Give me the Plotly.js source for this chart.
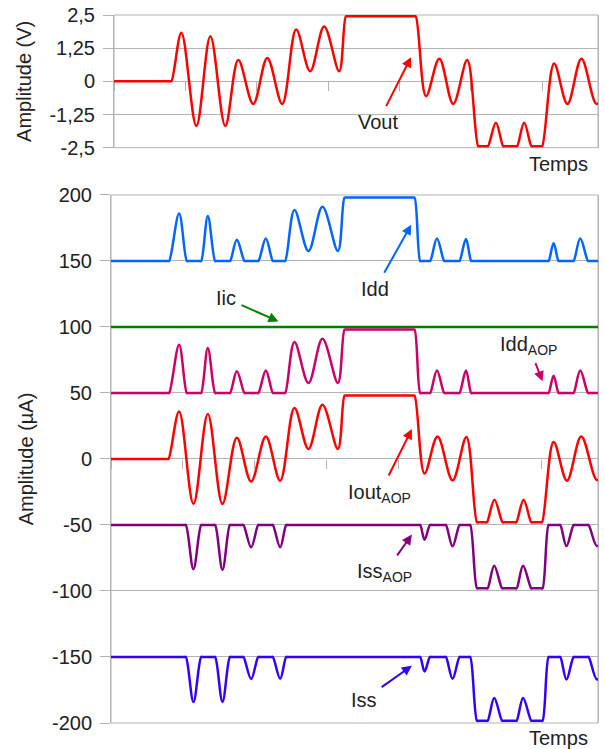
<!DOCTYPE html>
<html>
<head>
<meta charset="utf-8">
<script src="https://cdn.plot.ly/plotly-3.0.1.min.js"></script>
<style>html,body{margin:0;padding:0;background:#fff;}#chart{width:605px;height:749px;}</style>
</head>
<body>
<div id="chart"></div>
<script>
// ---------- time axis (arbitrary units, one x tick per unit) ----------
const xTicks = [0, 1, 2, 3, 4, 5, 6];

// ---------- top plot: Vout (V) ----------
const tVout = [0, 0.784, 0.804, 0.944, 1.154, 1.350, 1.559, 1.741, 1.951, 2.147, 2.357, 2.552, 2.748, 2.944, 3.154,
  3.248, 3.268, 4.207, 4.227, 4.371, 4.557, 4.752, 4.948, 5.102, 5.122, 5.218, 5.238, 5.350, 5.452, 5.472,
  5.627, 5.647, 5.745, 5.849, 5.869, 5.977, 5.997, 6.165, 6.352, 6.548, 6.758, 6.85];
const vout = [0, 0, 0, 1.83, -1.68, 1.70, -1.68, 0.80, -0.85, 0.88, -0.85, 1.95, 0.38, 2.07, 0.38,
  2.45, 2.45, 2.45, 2.45, -0.56, 0.85, -0.85, 0.80, -2.45, -2.45, -2.45, -2.45, -1.56, -2.45, -2.45,
  -2.45, -2.45, -1.56, -2.45, -2.45, -2.45, -2.45, 0.67, -0.85, 0.85, -0.85, -0.6];
const vTickVals = [-2.5, -1.25, 0, 1.25, 2.5];
const vTickText = ['-2,5', '-1,25', '0', '1,25', '2,5'];

// ---------- bottom plot: currents (µA) ----------
const tIout = [0, 0.78, 0.80, 0.948, 1.148, 1.348, 1.552, 1.752, 1.951, 2.156, 2.355, 2.554, 2.749, 2.944, 3.159,
  3.251, 3.271, 4.206, 4.226, 4.365, 4.546, 4.755, 4.948, 5.095, 5.115, 5.214, 5.234, 5.338, 5.451, 5.471,
  5.622, 5.642, 5.744, 5.851, 5.871, 5.98, 6.0, 6.162, 6.348, 6.547, 6.766, 6.86];
const ioutAop = [0, 0, 0, 36, -34, 34, -34, 16, -17, 17, -16.5, 38.6, 7.6, 41, 7.6,
  48, 48, 48, 48, -11, 17, -16.2, 16.7, -48, -48, -48, -48, -30.8, -48, -48,
  -48, -48, -30.8, -48, -48, -48, -48, 12.9, -16.4, 17.1, -16, -11];

const tIdd = [0, 0.79, 0.809, 0.948, 1.056, 1.076, 1.235, 1.255, 1.348, 1.450, 1.47, 1.639, 1.659, 1.752, 1.858,
  1.878, 2.033, 2.053, 2.156, 2.253, 2.273, 2.405, 2.425, 2.554, 2.749, 2.944, 3.159, 3.251, 3.271, 4.206,
  4.226, 4.305, 4.325, 4.424, 4.444, 4.538, 4.639, 4.659, 4.832, 4.852, 4.942, 5.015, 5.035, 6.072, 6.092,
  6.162, 6.231, 6.251, 6.420, 6.440, 6.533, 6.641, 6.661, 6.82];
const idd = [150, 150, 150, 186, 150, 150, 150, 150, 184, 150, 150, 150, 150, 166, 150,
  150, 150, 150, 167, 150, 150, 150, 150, 188.6, 157.6, 191, 157.6, 198, 198, 198,
  198, 150, 150, 150, 150, 167, 150, 150, 150, 150, 166.7, 150, 150, 150, 150,
  163.4, 150, 150, 150, 150, 167, 150, 150, 150];
const iddAop = [50, 50, 50, 86.6, 50, 50, 50, 50, 84, 50, 50, 50, 50, 66.4, 50,
  50, 50, 50, 67, 50, 50, 50, 50, 88.6, 57.6, 91, 57.6, 98, 98, 98,
  98, 50, 50, 50, 50, 67, 50, 50, 50, 50, 67, 50, 50, 50, 50,
  63.1, 50, 50, 50, 50, 67, 50, 50, 50];

const tIss = [0, 1.022, 1.042, 1.148, 1.255, 1.275, 1.430, 1.450, 1.552, 1.655, 1.675, 1.824, 1.844, 1.951, 2.049,
  2.069, 2.233, 2.253, 2.355, 2.439, 2.459, 4.285, 4.305, 4.365, 4.44, 4.46, 4.643, 4.663, 4.755, 4.852,
  4.872, 4.981, 5.001, 5.095, 5.115, 5.224, 5.244, 5.335, 5.445, 5.465, 5.627, 5.647, 5.737, 5.851, 5.871,
  5.988, 6.008, 6.092, 6.112, 6.235, 6.255, 6.341, 6.440, 6.46, 6.629, 6.649, 6.766, 6.86];
const iss = [-150, -150, -150, -184, -150, -150, -150, -150, -184, -150, -150, -150, -150, -166.7, -150,
  -150, -150, -150, -166.5, -150, -150, -150, -150, -161, -150, -150, -150, -150, -166.5, -150,
  -150, -150, -150, -198.3, -198.3, -198.3, -198.3, -181, -198.3, -198.3, -198.3, -198.3, -181, -198.3, -198.3,
  -198.3, -198.3, -150, -150, -150, -150, -167, -150, -150, -150, -150, -167, -160];
const issAop = [-50, -50, -50, -83.5, -50, -50, -50, -50, -84, -50, -50, -50, -50, -66.9, -50,
  -50, -50, -50, -66.9, -50, -50, -50, -50, -61.1, -50, -50, -50, -50, -66.2, -50,
  -50, -50, -50, -98, -98, -98, -98, -80.8, -98, -98, -98, -98, -80.8, -98, -98,
  -98, -98, -50, -50, -50, -50, -66, -50, -50, -50, -50, -66, -60];

const tIic = [0, 6.86];
const iic = [100, 100];

const iTickVals = [-200, -150, -100, -50, 0, 50, 100, 150, 200];
const iTickText = ['-200', '-150', '-100', '-50', '0', '50', '100', '150', '200'];

// ---------- styling ----------
const GRID = '#b3b3b3';
const TXT = '#222222';
const FONT = 'Liberation Sans, Arial, sans-serif';
const LW = 2.5;

function line(x, y, color, xa, ya, name) {
  return {x: x, y: y, xaxis: xa, yaxis: ya, type: 'scatter', mode: 'lines', name: name,
    line: {color: color, width: LW, shape: 'spline', smoothing: 1}, hoverinfo: 'skip'};
}

const traces = [
  line(tVout, vout, '#ff0000', 'x', 'y', 'Vout'),
  line(tIdd, idd, '#0066ff', 'x2', 'y2', 'Idd'),
  line(tIic, iic, '#008000', 'x2', 'y2', 'Iic'),
  line(tIdd, iddAop, '#cc0066', 'x2', 'y2', 'IddAOP'),
  line(tIout, ioutAop, '#ff0000', 'x2', 'y2', 'IoutAOP'),
  line(tIss, issAop, '#800080', 'x2', 'y2', 'IssAOP'),
  line(tIss, iss, '#3300ff', 'x2', 'y2', 'Iss')
];

const topDom = [0.8126, 1];
const botDom = [0, 0.7458];

function xAxis(dom, ydom) {
  return {domain: dom, range: [0, 6.78], anchor: 'free', position: (ydom[0] + ydom[1]) / 2,
    showgrid: false, zeroline: false, showline: false, ticks: 'outside', ticklen: 9,
    tickcolor: GRID, tickwidth: 1, tickvals: xTicks, showticklabels: false,
    layer: 'below traces', fixedrange: true};
}
function yAxis(dom, rng, vals, text, title, anchor) {
  return {domain: dom, range: rng, anchor: anchor, tickvals: vals, ticktext: text,
    showgrid: true, gridcolor: GRID, gridwidth: 1, zeroline: false,
    showline: true, linecolor: GRID, linewidth: 1, mirror: true,
    ticks: 'outside', ticklen: 10, tickcolor: GRID, tickwidth: 1, ticklabelstandoff: 4,
    tickfont: {size: 20, color: TXT, family: FONT},
    title: {text: title, font: {size: 20, color: TXT, family: FONT}, standoff: 12},
    fixedrange: true};
}

function ann(text, x, y, xa, ya, ax, ay, color) {
  return {text: text, x: x, y: y, xref: xa, yref: ya, ax: ax, ay: ay,
    showarrow: true, arrowhead: 2, arrowsize: 1, arrowwidth: 2, arrowcolor: color,
    startstandoff: 4, font: {size: 20, color: TXT, family: FONT}};
}

const layout = {
  width: 605, height: 749,
  margin: {l: 111, r: 7, t: 15, b: 26},
  paper_bgcolor: '#ffffff', plot_bgcolor: '#ffffff',
  showlegend: false,
  font: {family: FONT, size: 20, color: TXT},
  xaxis: xAxis([3 / 487, 1], topDom),
  yaxis: yAxis(topDom, [-2.5, 2.5], vTickVals, vTickText, 'Amplitude (V)', 'x'),
  xaxis2: xAxis([0, 1], botDom),
  yaxis2: yAxis(botDom, [-200, 200], iTickVals, iTickText, 'Amplitude (µA)', 'x2'),
  shapes: [
    {type: 'rect', xref: 'x domain', yref: 'y domain', x0: 0, x1: 1, y0: 0, y1: 1,
      line: {color: GRID, width: 1}, layer: 'below'},
    {type: 'rect', xref: 'x2 domain', yref: 'y2 domain', x0: 0, x1: 1, y0: 0, y1: 1,
      line: {color: GRID, width: 1}, layer: 'below'}
  ],
  annotations: [
    ann('Vout', 4.161, 0.91, 'x', 'y', -33, 65, '#ff0000'),
    ann('Idd', 4.18, 177.5, 'x2', 'y2', -36, 64, '#0066ff'),
    ann('Iic', 2.331, 104.2, 'x2', 'y2', -52, -23, '#008000'),
    ann('Idd<sub>AOP</sub>', 6.008, 58.8, 'x2', 'y2', -14, -36, '#cc0066'),
    ann('Iout<sub>AOP</sub>', 4.189, 22.7, 'x2', 'y2', -32, 64, '#ff0000'),
    ann('Iss<sub>AOP</sub>', 4.189, -57.3, 'x2', 'y2', -27, 38, '#800080'),
    ann('Iss', 4.189, -156.6, 'x2', 'y2', -48, 34, '#3300ff'),
    {text: 'Temps', xref: 'x domain', yref: 'y domain', x: 1, y: 0, xanchor: 'right', yanchor: 'middle',
      xshift: -8, yshift: -16, showarrow: false, font: {size: 20, color: TXT, family: FONT}},
    {text: 'Temps', xref: 'x2 domain', yref: 'y2 domain', x: 1, y: 0, xanchor: 'right', yanchor: 'middle',
      xshift: -8, yshift: -15, showarrow: false, font: {size: 20, color: TXT, family: FONT}}
  ]
};

Plotly.newPlot('chart', traces, layout, {staticPlot: true, displayModeBar: false});
</script>
</body>
</html>
